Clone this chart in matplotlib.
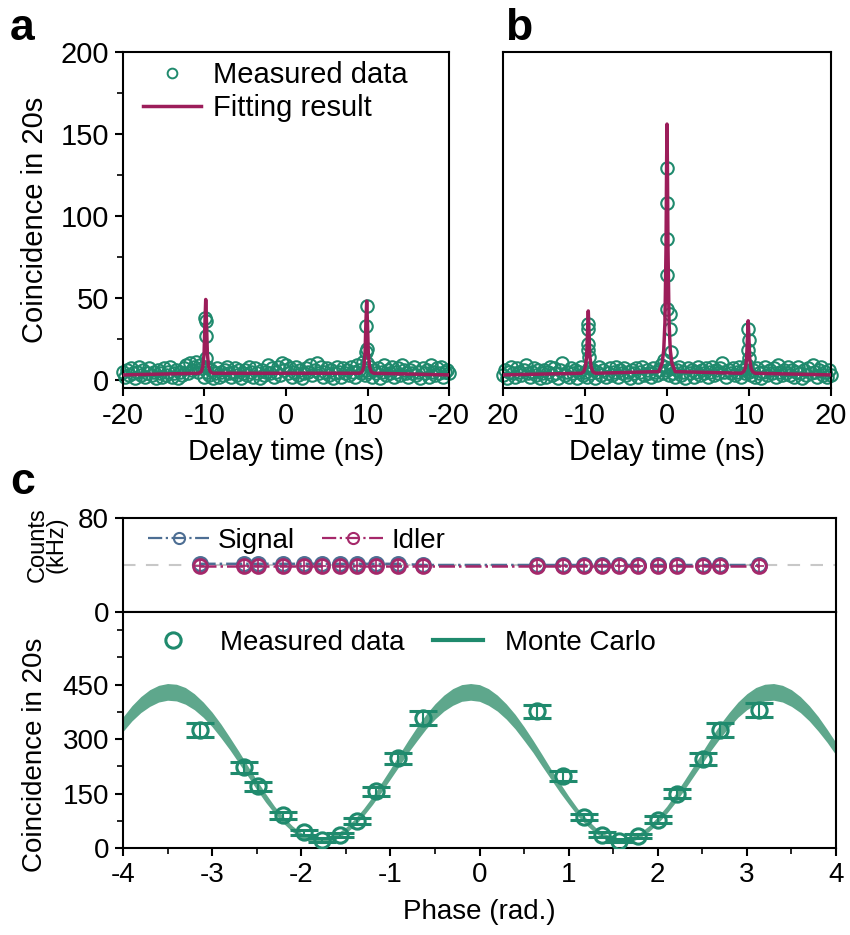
import numpy as np
import matplotlib
matplotlib.use("Agg")
import matplotlib.pyplot as plt
from matplotlib.lines import Line2D
from matplotlib.ticker import MultipleLocator

plt.rcParams['font.family'] = ['Liberation Sans', 'DejaVu Sans']
plt.rcParams['axes.unicode_minus'] = False

# ---- panel a / b : coincidence histograms ----
delay_grid = np.linspace(-20, 20, 161)

bg_a = [5, 2, 6, 3, 7, 4, 1, 5, 8, 3, 6, 2, 4, 7, 3, 5, 1, 6, 4, 2,
        7, 3, 5, 8, 2, 4, 6, 1, 5, 3, 7, 9, 4, 10, 6, 8, 11, 5, 9, 7,
        2, 5, 3, 6, 1, 4, 7, 2, 5, 3, 6, 8, 4, 2, 5, 7, 3, 6, 1, 4,
        6, 3, 8, 5, 2, 7, 4, 1, 6, 3, 5, 9, 4, 7, 2, 5, 8, 3, 10, 6,
        9, 4, 7, 2, 5, 8, 3, 6, 1, 4, 7, 5, 9, 3, 6, 10, 4, 8, 2, 5,
        7, 3, 6, 1, 4, 8, 5, 2, 7, 4, 6, 3, 8, 5, 2, 9, 6, 4, 11, 3,
        5, 8, 2, 6, 4, 7, 1, 5, 9, 3, 6, 4, 8, 2, 5, 7, 3, 9, 6, 4,
        2, 6, 4, 8, 3, 5, 1, 7, 4, 6, 2, 9, 5, 3, 7, 4, 8, 2, 5, 6, 4]
peak_a_x = [-9.9, -9.85, -9.8, -9.85, -9.7, 9.9, 9.85, 9.9, 9.85, 9.95, 9.8]
peak_a_y = [38, 36, 27, 13, 8, 45, 33, 19, 17, 10, 6]

fit_a_x = [-20, -10.7, -10.4, -10.2, -10.05, -9.95, -9.85, -9.75, -9.65, -9.5, -9.3, -9.0,
           9.05, 9.35, 9.55, 9.7, 9.8, 9.9, 10.0, 10.1, 10.25, 10.45, 10.75, 20]
fit_a_y = [3, 4, 5, 8, 16, 34, 49, 34, 16, 8, 5, 4,
           4, 5, 8, 16, 34, 48, 34, 16, 8, 5, 4, 3]

bg_b = [3, 6, 1, 5, 8, 4, 2, 7, 5, 3, 6, 9, 4, 2, 5, 7, 3, 6, 1, 4,
        6, 2, 5, 8, 3, 7, 4, 1, 6, 10, 3, 5, 2, 7, 4, 6, 1, 5, 8, 3,
        5, 2, 7, 4, 6, 1, 5, 8, 3, 6, 2, 4, 7, 3, 5, 8, 2, 6, 4, 7,
        3, 5, 1, 6, 4, 7, 2, 5, 8, 3, 6, 4, 2, 7, 5, 3, 6, 9, 4, 8,
        6, 3, 7, 4, 2, 6, 8, 3, 5, 1, 7, 4, 6, 2, 5, 8, 3, 6, 4, 7,
        2, 5, 8, 3, 6, 4, 7, 10, 5, 2, 6, 4, 7, 3, 5, 8, 2, 6, 4, 9,
        5, 3, 6, 2, 7, 4, 1, 5, 8, 3, 6, 4, 7, 2, 9, 5, 3, 6, 4, 8,
        3, 6, 2, 5, 8, 4, 1, 6, 3, 7, 4, 9, 5, 2, 6, 8, 3, 5, 2, 6, 3]
peak_b_x = [-9.6, -9.65, -9.6, -9.65, -9.55,
            0.05, 0.05, 0.05, 0.05, 0.0, 0.4, 0.4, 0.45, -0.4,
            9.9, 9.95, 9.9, 9.95]
peak_b_y = [34, 31, 22, 18, 14,
            129, 108, 86, 64, 43, 40, 31, 17, 12,
            31, 24, 18, 13]

fit_b_x = [-20, -10.45, -10.15, -9.95, -9.8, -9.7, -9.6, -9.5, -9.4, -9.25, -9.05, -8.75,
           -1.0, -0.6, -0.4, -0.25, -0.12, -0.05, 0.0, 0.05, 0.12, 0.25, 0.4, 0.6, 1.0,
           9.05, 9.35, 9.55, 9.7, 9.8, 9.9, 10.0, 10.1, 10.25, 10.45, 10.75, 20]
fit_b_y = [3, 4, 5, 8, 14, 28, 42, 28, 14, 8, 5, 4,
           5, 10, 18, 35, 80, 130, 156, 130, 80, 35, 18, 10, 5,
           4, 5, 7, 12, 24, 36, 24, 12, 7, 5, 4, 3]

# ---- panel c ----
phase = [-3.14, -2.64, -2.49, -2.21, -1.97, -1.77, -1.57, -1.37, -1.16, -0.92, -0.63,
         0.65, 0.94, 1.17, 1.37, 1.57, 1.78, 2.00, 2.22, 2.51, 2.70, 3.14]
coinc = [325, 222, 170, 90, 43, 22, 36, 74, 156, 247, 358,
         376, 198, 85, 37, 20, 33, 78, 150, 245, 325, 379]
coinc_err = [18, 15, 13, 9, 7, 5, 6, 9, 12, 16, 19,
             19, 14, 9, 6, 4.5, 6, 9, 12, 16, 18, 19]
signal_khz = [41, 41, 41, 41, 41, 41, 41, 41, 41, 41, 40,
              40, 40, 40, 40, 40, 40, 40, 40, 40, 40, 40]
idler_khz = [39, 39, 39, 39, 39, 39, 39, 39, 39, 39, 39,
             39, 39, 39, 39, 39, 39, 39, 39, 39, 39, 39]

mc_phase = np.round(np.arange(-40, 41) / 10, 1)
mc_center = [341, 371, 395, 413, 425, 430, 428, 419, 403, 381,
             354, 322, 287, 250, 212, 174, 138, 105, 77, 53,
             35, 24, 20, 23, 33, 49, 71, 99, 131, 167,
             204, 242, 280, 315, 348, 376, 399, 416, 427, 430,
             427, 416, 399, 376, 348, 315, 280, 242, 204, 167,
             132, 99, 72, 49, 33, 23, 20, 24, 35, 53,
             77, 105, 138, 174, 211, 249, 287, 322, 353, 381,
             403, 419, 428, 430, 425, 413, 395, 371, 342, 309, 273]
mc_halfwidth = [20, 21, 22, 23, 23, 23, 23, 23, 22, 21,
                20, 19, 17, 16, 14, 13, 12, 10, 9, 8,
                7, 7, 7, 7, 7, 8, 9, 10, 11, 13,
                14, 16, 17, 19, 20, 21, 22, 23, 23, 23,
                23, 23, 22, 21, 20, 19, 17, 16, 14, 13,
                11, 10, 9, 8, 7, 7, 7, 7, 7, 8,
                9, 10, 12, 13, 14, 16, 17, 19, 20, 21,
                22, 23, 23, 23, 23, 23, 22, 21, 20, 18, 17]

TEAL = '#1f8a6d'
MAROON = '#9c1d5a'
BAND = '#5ea78c'
SIG = '#4d6e93'
IDL = '#a5286a'
FS = 21
FSC = 20

fig = plt.figure(figsize=(8.5, 9.35), dpi=100)


def px_axes(l, t, r, b):
    return fig.add_axes([l / 850, 1 - b / 935, (r - l) / 850, (b - t) / 935])


def style(ax, fs=FS):
    for s in ax.spines.values():
        s.set_linewidth(1.5)
    ax.tick_params(which='major', direction='out', length=6, width=1.5, labelsize=fs, pad=4)
    ax.tick_params(which='minor', direction='out', length=4, width=1.2)


# panel a
ax_a = px_axes(123, 52, 449, 388)
ax_a.plot(list(delay_grid) + peak_a_x, bg_a + peak_a_y, 'o', mfc='none', mec=TEAL,
          ms=9, mew=1.5, clip_on=False, zorder=2)
ax_a.plot(fit_a_x, fit_a_y, color=MAROON, lw=2.5, zorder=3)
ax_a.set_xlim(-20, 20)
ax_a.set_ylim(-5, 200)
ax_a.set_xticks([-20, -10, 0, 10, 20])
ax_a.set_xticklabels(['-20', '-10', '0', '10', '-20'])
ax_a.set_yticks([0, 50, 100, 150, 200])
ax_a.yaxis.set_minor_locator(MultipleLocator(25))
style(ax_a)
ax_a.set_xlabel('Delay time (ns)', fontsize=FS, labelpad=6)
handles = [Line2D([], [], ls='none', marker='o', mfc='none', mec=TEAL, ms=7, mew=1.4),
           Line2D([], [], color=MAROON, lw=2.5)]
ax_a.legend(handles, ['Measured data', 'Fitting result'], loc='upper left',
            bbox_to_anchor=(-0.02, 1.05), frameon=False, fontsize=FS,
            handlelength=2.0, labelspacing=0.15, handletextpad=0.4)

# panel b
ax_b = px_axes(503, 52, 831, 388)
ax_b.plot(list(delay_grid) + peak_b_x, bg_b + peak_b_y, 'o', mfc='none', mec=TEAL,
          ms=9, mew=1.5, clip_on=False, zorder=2)
ax_b.plot(fit_b_x, fit_b_y, color=MAROON, lw=2.5, zorder=3)
ax_b.set_xlim(-20, 20)
ax_b.set_ylim(-5, 200)
ax_b.set_xticks([-20, -10, 0, 10, 20])
ax_b.set_xticklabels(['20', '-10', '0', '10', '20'])
ax_b.set_yticks([])
style(ax_b)
ax_b.set_xlabel('Delay time (ns)', fontsize=FS, labelpad=6)

# panel c top: single counts
ax_t = px_axes(123, 518, 836, 612)
ax_t.axhline(40, color='#c8c8c8', lw=1.5, ls=(0, (6, 5)), zorder=1)
ax_t.plot(phase, signal_khz, ls='-.', color=SIG, lw=1.8, marker='o', mfc='none',
          mec=SIG, ms=10, mew=2.2, zorder=2)
ax_t.errorbar(phase, idler_khz, xerr=0.05, yerr=5, fmt='o', mfc='none', mec=IDL, ms=10,
              mew=2, ecolor=IDL, elinewidth=1.2, capsize=0, zorder=3)
ax_t.plot(phase, idler_khz, ls='-.', color=IDL, lw=1.8, zorder=3)
ax_t.set_xlim(-4, 4)
ax_t.set_ylim(0, 80)
ax_t.set_xticks([])
ax_t.set_yticks([0, 80])
style(ax_t, FSC)
h_sig = Line2D([], [], ls='-.', color=SIG, lw=1.6, marker='o', mfc='none', mec=SIG, ms=8, mew=1.5)
h_idl = Line2D([], [], ls='-.', color=IDL, lw=1.6, marker='o', mfc='none', mec=IDL, ms=8, mew=1.5)
ax_t.legend([h_sig, h_idl], ['Signal', 'Idler'], loc='upper left', bbox_to_anchor=(0.0, 1.16),
            ncol=2, frameon=False, fontsize=FSC,
            handlelength=2.2, handletextpad=0.3, columnspacing=1.0)

# panel c bottom: interference
ax_c = px_axes(123, 612, 836, 848)
ax_c.fill_between(mc_phase, np.array(mc_center) - np.array(mc_halfwidth),
                  np.array(mc_center) + np.array(mc_halfwidth), color=BAND, lw=0, zorder=1)
ax_c.errorbar(phase, coinc, yerr=coinc_err, fmt='o', mfc='none', mec=TEAL, ms=11, mew=2.2,
              ecolor=TEAL, elinewidth=1.5, capsize=10, capthick=1.5, zorder=3)
ax_c.set_xlim(-4, 4)
ax_c.set_ylim(0, 650)
ax_c.set_yticks([0, 150, 300, 450])
ax_c.yaxis.set_minor_locator(MultipleLocator(75))
ax_c.xaxis.set_minor_locator(MultipleLocator(0.5))
style(ax_c, FSC)
ax_c.set_xlabel('Phase (rad.)', fontsize=FSC, labelpad=8)
h_m = Line2D([], [], ls='none', marker='o', mfc='none', mec=TEAL, ms=11, mew=2.2)
h_mc = Line2D([], [], color=TEAL, lw=3)
ax_c.legend([h_m, h_mc], ['Measured data', 'Monte Carlo'], loc='upper left',
            bbox_to_anchor=(0.0, 1.03), ncol=2, frameon=False,
            fontsize=FSC, handlelength=1.8, columnspacing=1.0)

# axis titles and panel letters
fig.text(35 / 850, 1 - 220 / 935, 'Coincidence in 20s', rotation=90, ha='center', va='center', fontsize=FS)
fig.text(47 / 850, 1 - 545 / 935, 'Counts\n(kHz)', rotation=90, ha='center', va='center',
         fontsize=17, linespacing=0.85)
fig.text(35 / 850, 1 - 755 / 935, 'Coincidence in 20s', rotation=90, ha='center', va='center',
         fontsize=FSC)
fig.text(10 / 850, 1 - 40 / 935, 'a', fontsize=32, fontweight='bold')
fig.text(505 / 850, 1 - 40 / 935, 'b', fontsize=32, fontweight='bold')
fig.text(10 / 850, 1 - 494 / 935, 'c', fontsize=32, fontweight='bold')

fig.savefig('out.png', dpi=100)
